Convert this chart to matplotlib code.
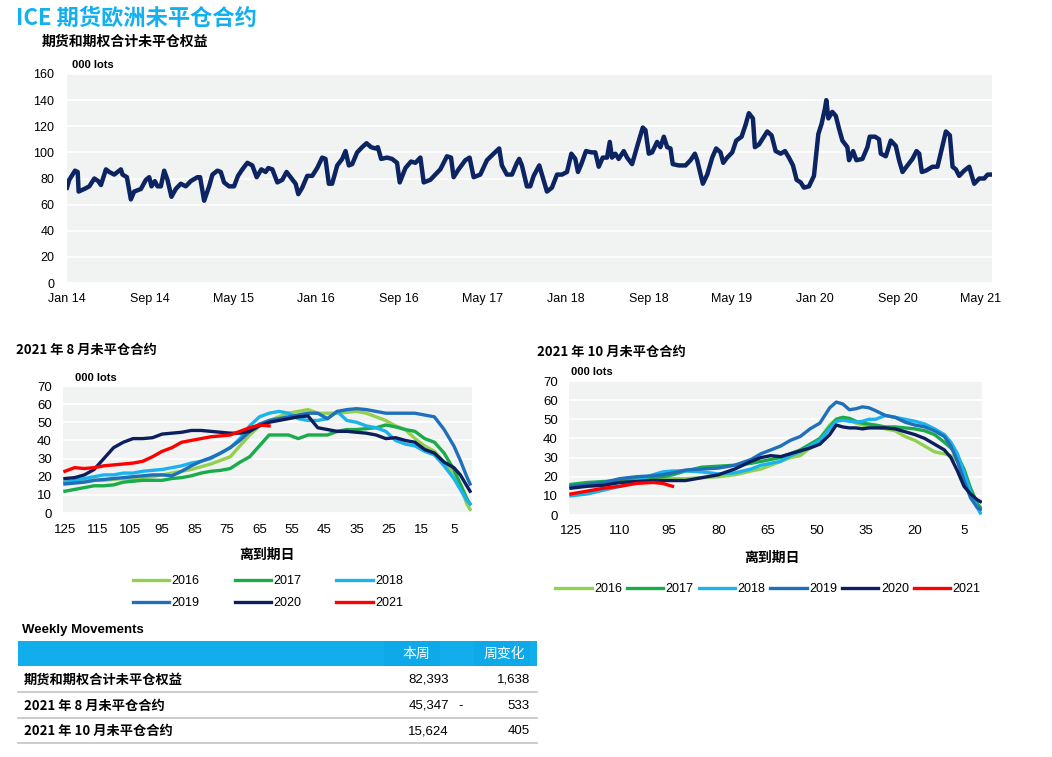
import numpy as np
import matplotlib
matplotlib.use('Agg')
import matplotlib.pyplot as plt
from matplotlib.patches import Rectangle

plt.rcParams['font.family'] = ['Liberation Sans', 'Noto Sans CJK SC', 'DejaVu Sans']

# ---- top chart: total futures + options open interest (000 lots) ----
# x = months since Jan 2014
top_months = [0.0, 0.22, 0.54, 0.77, 1.03, 1.12, 1.67, 2.15, 2.63, 3.01,
              3.27, 3.75, 4.07, 4.55, 5.19, 5.35, 5.77, 6.15, 6.47, 7.12,
              7.60, 7.92, 8.14, 8.46, 8.72, 9.04, 9.36, 9.68, 10.06, 10.48,
              10.96, 11.44, 11.92, 12.56, 12.82, 13.21, 13.69, 14.01, 14.49, 14.81,
              15.13, 15.61, 16.09, 16.47, 16.89, 17.37, 17.85, 18.27, 18.72, 19.13,
              19.39, 19.78, 20.26, 20.74, 21.15, 21.54, 22.02, 22.28, 22.66, 23.14,
              23.62, 24.10, 24.58, 24.90, 25.22, 25.54, 26.03, 26.51, 26.83, 27.15,
              27.47, 27.95, 28.43, 28.85, 29.29, 29.71, 29.94, 30.26, 30.83, 31.31,
              31.79, 32.05, 32.60, 33.14, 33.56, 34.04, 34.36, 35.00, 35.48, 35.96,
              36.60, 36.99, 37.24, 37.72, 38.37, 38.78, 39.17, 39.81, 40.45, 41.09,
              41.63, 41.89, 42.37, 42.86, 43.34, 43.56, 43.82, 44.30, 44.62, 44.95,
              45.49, 45.75, 46.23, 46.71, 47.20, 47.68, 48.16, 48.58, 48.96, 49.22,
              49.54, 49.99, 50.51, 50.89, 51.22, 51.60, 52.02, 52.28, 52.50, 52.82,
              53.14, 53.63, 53.95, 54.43, 55.01, 55.46, 55.72, 56.04, 56.36, 56.84,
              57.16, 57.49, 57.81, 58.13, 58.35, 58.93, 59.58, 60.06, 60.48, 60.70,
              61.25, 61.67, 62.15, 62.53, 62.95, 63.21, 63.59, 64.08, 64.46, 64.98,
              65.36, 65.68, 66.07, 66.26, 66.65, 67.13, 67.45, 67.87, 68.26, 68.74,
              69.16, 69.54, 69.93, 70.28, 70.67, 70.99, 71.47, 71.95, 72.37, 72.69,
              73.02, 73.14, 73.34, 73.72, 74.05, 74.37, 74.69, 75.17, 75.33, 75.72,
              76.04, 76.62, 77.10, 77.32, 77.84, 78.22, 78.39, 78.87, 79.35, 79.83,
              80.15, 80.48, 80.96, 81.44, 81.83, 82.09, 82.34, 82.73, 83.37, 83.85,
              84.27, 84.66, 85.04, 85.30, 85.62, 85.94, 86.42, 86.91, 87.16, 87.39,
              87.87, 88.35, 88.68, 89.09]
top_values = [73, 79, 83, 86, 85, 70, 72, 74, 80, 78,
              75, 87, 85, 83, 87, 83, 81, 64, 70, 72,
              79, 81, 74, 78, 74, 74, 86, 79, 66, 72,
              76, 74, 78, 81, 81, 63, 74, 83, 86, 85,
              77, 74, 74, 82, 87, 92, 90, 81, 87, 85,
              88, 87, 77, 79, 85, 81, 76, 68, 73, 82,
              82, 88, 96, 95, 76, 76, 90, 95, 101, 90,
              91, 100, 104, 107, 104, 103, 104, 95, 96, 95,
              92, 77, 88, 93, 92, 96, 77, 79, 83, 87,
              97, 96, 81, 87, 94, 96, 81, 83, 94, 99,
              103, 90, 83, 83, 92, 95, 90, 74, 74, 82,
              90, 83, 70, 73, 83, 83, 85, 99, 95, 85,
              91, 101, 100, 100, 89, 96, 96, 108, 96, 99,
              95, 101, 96, 91, 107, 119, 117, 99, 100, 108,
              104, 112, 104, 103, 91, 90, 90, 94, 99, 94,
              76, 83, 96, 103, 100, 92, 96, 100, 109, 112,
              121, 130, 126, 104, 106, 112, 116, 113, 101, 99,
              101, 96, 90, 79, 77, 73, 74, 82, 114, 122,
              134, 140, 126, 131, 128, 118, 109, 104, 94, 101,
              94, 95, 104, 112, 112, 110, 99, 97, 109, 105,
              94, 85, 90, 95, 101, 99, 85, 86, 89, 89,
              103, 116, 113, 89, 87, 82, 86, 89, 82, 76,
              80, 80, 83, 83]
top_tick_months = [0, 8, 16, 24, 32, 40, 48, 56, 64, 72, 80, 88]
top_tick_labels = ['Jan 14', 'Sep 14', 'May 15', 'Jan 16', 'Sep 16', 'May 17',
                   'Jan 18', 'Sep 18', 'May 19', 'Jan 20', 'Sep 20', 'May 21']

years = ['2016', '2017', '2018', '2019', '2020', '2021']

# ---- Aug 2021 contract: open interest by days to expiry ----
aug_days = [125, 122, 119, 116, 113, 110, 107, 104, 101, 98, 95, 92, 89, 86, 83,
            80, 77, 74, 71, 68, 65, 62, 59, 56, 53, 50, 47, 44, 41, 38, 35, 32,
            29, 26, 23, 20, 17, 14, 11, 8, 5, 3, 1, 0]
aug_2016 = [17, 17, 17.5, 18, 18, 18.5, 19, 19, 19.5, 20, 21, 22, 23, 24, 25.5,
            27, 29, 31, 37, 43, 48, 51, 53, 55, 56, 57, 55, 55, 55, 55.5, 56, 55,
            53, 51, 48, 46, 41, 37, 34, 28, 21, 15, 5, 2]
aug_2017 = [12, 13, 14, 15, 15, 15.5, 17, 17.5, 18, 18, 18, 19, 19.5, 20.5, 22,
            23, 23.5, 24.5, 28, 31, 37, 43, 43, 43, 41, 43, 43, 43, 45, 46, 46, 46.5,
            47, 48.5, 47.5, 46, 45, 41, 39, 33, 24, 16, 8, 5]
aug_2018 = [17, 18, 19, 20, 21, 21, 22, 22, 23, 23.5, 24, 25, 26, 27.5, 28.5,
            30, 33, 36, 41, 48, 53, 55, 56, 55, 52, 51, 51, 52, 56, 51, 50, 48,
            47, 45, 40, 38, 37, 34, 32, 26, 19, 13, 7, 5]
aug_2019 = [16, 16.5, 17, 18, 18.5, 19, 19.5, 20, 20.5, 21, 21, 20.5, 23, 26, 28.5,
            30.5, 33, 36, 40, 45, 49, 51, 52, 53, 54, 55, 55, 52, 56, 57, 57.5, 57,
            56, 55, 55, 55, 55, 54, 53, 46, 37, 29, 20, 16]
aug_2020 = [19, 19.5, 21, 24, 30, 36, 39, 41, 41, 41.5, 43.5, 44, 44.5, 45.5, 45.5,
            45, 44.5, 44, 44, 45, 48, 50, 51, 52, 53, 53.5, 47, 46, 45, 45, 44.5, 44,
            43, 41, 41.5, 40, 39, 35, 33, 28, 25, 21, 15, 12]
aug_2021 = [23, 25, 24.5, 25, 26, 26.5, 27, 27.5, 28.5, 31, 34, 36, 39, 40, 41,
            42, 42.5, 43, 45, 47, 48.5, 48, None, None, None, None, None, None, None,
            None, None, None, None, None, None, None, None, None, None, None, None,
            None, None, None]

# ---- Oct 2021 contract ----
oct_days = [125, 120, 115, 110, 105, 100, 97, 94, 90, 85, 80, 75, 70, 67, 64, 61,
            58, 55, 52, 49, 46, 44, 42, 40, 38, 36, 34, 32, 29, 26, 23, 20, 17,
            14, 11, 9, 7, 5, 3, 1, 0]
oct_2016 = [15, 16, 17, 17, 18, 18.5, 19, 19, 19, 19.5, 20, 21, 23, 24, 26, 28,
            30, 31, 35, 40, 47, 50, 51, 50, 48, 47, 46, 46, 45, 44, 41, 39, 36,
            33, 32, 31, 28, 21, 14, 6, 3]
oct_2017 = [16, 17, 17.5, 18, 19, 19.5, 20, 21, 23, 25, 25.5, 26, 27, 28, 29, 30,
            32, 34, 37, 40, 46, 50, 51, 50.5, 49, 48, 47.5, 47, 46, 46, 45.5, 45, 44,
            42, 38, 35, 31, 24, 14, 6, 4]
oct_2018 = [10, 11, 13, 15, 18, 21, 22.5, 23, 23, 22.5, 21.5, 22, 24, 26, 27, 28,
            31, 33, 36, 39, 45, 49, 49.5, 49, 48.5, 49, 50, 50, 52, 51, 50, 49, 47.5,
            45, 42, 38, 32, 22, 12, 4, 1]
oct_2019 = [15, 16, 17, 19, 20, 20.5, 21, 22, 23.5, 24, 24.5, 26, 29, 32, 34, 36,
            39, 41, 45, 48, 56, 59, 58, 55, 55.5, 56.5, 56, 54.5, 52, 51, 48.5, 47, 46,
            44, 41, 36, 28, 18, 9, 4, 3]
oct_2020 = [14, 15, 15.5, 17, 17.5, 18, 18, 18, 18, 19.5, 21, 24, 28, 30, 31, 30.5,
            32, 33.5, 35, 37, 42, 47, 46, 45.5, 45.5, 45, 45.5, 45.5, 45.5, 45, 43.5, 42, 40,
            37, 34, 30, 23, 15, 11, 8, 7]
oct_2021 = [11, 12.5, 14, 15, 16.5, 17, 16.5, 15, None, None, None, None, None, None,
            None, None, None, None, None, None, None, None, None, None, None, None,
            None, None, None, None, None, None, None, None, None, None, None, None,
            None, None, None]

# ---- weekly movements table ----
table_labels = ['期货和期权合计未平仓权益', '2021 年 8 月未平仓合约', '2021 年 10 月未平仓合约']
this_week = [82393, 45347, 15624]
week_change = [1638, -533, 405]

W, H = 1052, 757
NAVY = '#0c2461'
BG = '#f1f2f2'
CYAN = '#12b0ee'
year_colors = ['#92d050', '#1aab4b', '#1ab3ee', '#1f6fba', '#0c1f5c', '#ff0000']
CJK = ['Noto Sans CJK SC', 'Liberation Sans']
NARROW = ['Liberation Sans Narrow', 'DejaVu Sans']


def axes_px(fig, left, top, right, bottom):
    return fig.add_axes([left / W, 1 - bottom / H, (right - left) / W, (bottom - top) / H])


def style_axes(ax):
    ax.set_facecolor(BG)
    for s in ax.spines.values():
        s.set_visible(False)
    ax.grid(axis='y', color='white', lw=1.3)
    ax.set_axisbelow(True)
    ax.tick_params(length=0)


fig = plt.figure(figsize=(W / 100, H / 100), dpi=100)
fig.patch.set_facecolor('white')

# overlay in pixel coordinates for titles and table
ov = fig.add_axes([0, 0, 1, 1], zorder=-1)
ov.set_xlim(0, W)
ov.set_ylim(H, 0)
ov.axis('off')

ov.text(16, 18, 'ICE 期货欧洲未平仓合约', color=CYAN, fontsize=16, fontweight='bold',
        family=CJK, va='center', ha='left')
ov.text(42, 42, '期货和期权合计未平仓权益', fontsize=10, fontweight='bold',
        family=CJK, va='center', ha='left')

# top chart
ax = axes_px(fig, 67, 74, 992, 283)
style_axes(ax)
ax.plot(top_months, top_values, color=NAVY, lw=3.2, solid_joinstyle='round')
ax.set_xlim(0, 89.1)
ax.set_ylim(0, 160)
ax.set_yticks(range(0, 161, 20))
ax.set_xticks(top_tick_months)
ax.set_xticklabels(top_tick_labels)
ax.tick_params(axis='y', pad=9, labelsize=9)
ax.tick_params(axis='x', pad=7, labelsize=9)
ov.text(72, 65, '000 lots', fontsize=8, fontweight='bold', va='center')
ov.text(928, 269, '© CZapp', fontsize=10, family=NARROW, va='center')

# bottom charts
ov.text(16, 350, '2021 年 8 月未平仓合约', fontsize=9.5, fontweight='bold',
        family=CJK, va='center')
ov.text(537, 352, '2021 年 10 月未平仓合约', fontsize=9.5, fontweight='bold',
        family=CJK, va='center')

aug_series = [aug_2016, aug_2017, aug_2018, aug_2019, aug_2020, aug_2021]
oct_series = [oct_2016, oct_2017, oct_2018, oct_2019, oct_2020, oct_2021]

ax1 = axes_px(fig, 63, 386, 472, 513)
style_axes(ax1)
lines1 = []
for yr, col, vals in zip(years, year_colors, aug_series):
    ln, = ax1.plot(aug_days, np.array(vals, dtype=float), color=col, lw=2.4, label=yr)
    lines1.append(ln)
ax1.set_xlim(125.6, -0.6)
ax1.set_ylim(0, 70)
ax1.set_yticks(range(0, 71, 10))
ax1.set_xticks(range(125, 0, -10))
ax1.tick_params(axis='y', pad=8, labelsize=9.5)
ax1.tick_params(axis='x', pad=8, labelsize=9.5)
ov.text(75, 378, '000 lots', fontsize=8, fontweight='bold', va='center')
ov.text(409, 394, '© CZapp', fontsize=10, family=NARROW, va='center')
ov.text(267, 555, '离到期日', fontsize=10, fontweight='bold', family=CJK,
        ha='center', va='center')
order = [0, 3, 1, 4, 2, 5]
fig.legend([lines1[i] for i in order], [years[i] for i in order], ncol=3,
           loc='center', bbox_to_anchor=(268 / W, 1 - 592 / H), frameon=False,
           fontsize=9, handlelength=2.9, handletextpad=0.2, columnspacing=2.8,
           labelspacing=0.8)

ax2 = axes_px(fig, 569, 381, 982, 515)
style_axes(ax2)
lines2 = []
for yr, col, vals in zip(years, year_colors, oct_series):
    ln, = ax2.plot(oct_days, np.array(vals, dtype=float), color=col, lw=2.4, label=yr)
    lines2.append(ln)
ax2.set_xlim(125.6, -0.5)
ax2.set_ylim(0, 70)
ax2.set_yticks(range(0, 71, 10))
ax2.set_xticks(range(125, 0, -15))
ax2.tick_params(axis='y', pad=8, labelsize=9.5)
ax2.tick_params(axis='x', pad=7, labelsize=9.5)
ov.text(571, 372, '000 lots', fontsize=8, fontweight='bold', va='center')
ov.text(918, 392, '© CZapp', fontsize=10, family=NARROW, va='center')
ov.text(772, 558, '离到期日', fontsize=10, fontweight='bold', family=CJK,
        ha='center', va='center')
fig.legend(lines2, years, ncol=6, loc='center',
           bbox_to_anchor=(768 / W, 1 - 589 / H), frameon=False, fontsize=9,
           handlelength=2.9, handletextpad=0.2, columnspacing=0.4)

# weekly movements table
ov.text(22, 630, 'Weekly Movements', fontsize=9.5, fontweight='bold', va='center')
ov.add_patch(Rectangle((18, 641), 519, 25, color='#12aeec', lw=0))
ov.add_patch(Rectangle((384, 641), 56, 25, color='#0ea9e8', lw=0))
ov.add_patch(Rectangle((474, 641), 56, 25, color='#0ea9e8', lw=0))
ov.text(416, 654, '本周', color='white', fontsize=10, family=CJK, ha='center', va='center')
ov.text(504, 654, '周变化', color='white', fontsize=10, family=CJK, ha='center', va='center')
row_y = [680, 706, 731]
for i, (lab, tw, ch) in enumerate(zip(table_labels, this_week, week_change)):
    y = row_y[i]
    ov.text(24, y, lab, fontsize=9.5, fontweight='bold', family=CJK, va='center')
    ov.text(449, y, f'{tw:,}', fontsize=9.5, ha='right', va='center')
    if ch < 0:
        ov.text(461, y, '-', fontsize=9.5, ha='center', va='center')
    ov.text(530, y, f'{abs(ch):,}', fontsize=9.5, ha='right', va='center')
    ov.plot([18, 537], [y + 12, y + 12], color='#c8c8c8', lw=1.3)

fig.savefig('out.png', dpi=100, facecolor='white')
